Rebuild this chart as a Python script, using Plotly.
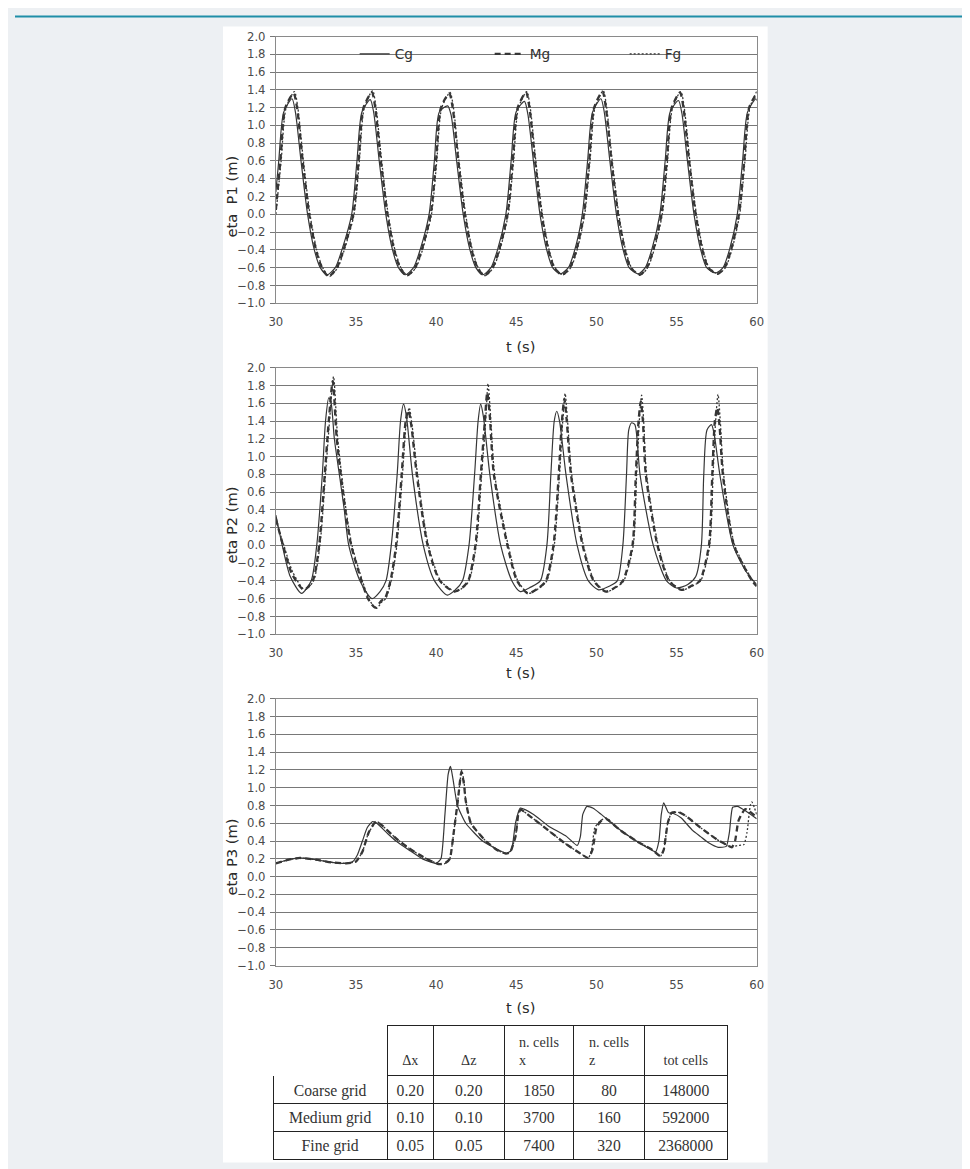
import plotly.graph_objects as go

# ---------------- data ----------------
# P1
p1_t_cg = [30.0, 30.18, 30.49, 31.01, 31.22, 31.57, 31.98, 32.4, 32.77, 33.19, 33.71, 34.12,
           34.73, 35.06, 35.37, 35.89, 36.1, 36.45, 36.86, 37.28, 37.65, 38.07, 38.59, 39.0,
           39.56, 39.89, 40.2, 40.72, 40.93, 41.28, 41.69, 42.11, 42.48, 42.9, 43.42, 43.83,
           44.35, 44.68, 44.99, 45.51, 45.72, 46.07, 46.48, 46.9, 47.27, 47.75, 48.25, 48.65,
           49.12, 49.45, 49.76, 50.28, 50.49, 50.84, 51.25, 51.67, 52.04, 52.6, 53.05, 53.45,
           53.96, 54.29, 54.6, 55.12, 55.33, 55.68, 56.09, 56.51, 56.88, 57.45, 57.9, 58.3,
           58.79, 59.12, 59.43, 59.95, 60.0]
p1_cg = [0.25, 0.6, 1.15, 1.3, 1.15, 0.6, 0.0, -0.4, -0.6, -0.68, -0.6, -0.4,
         0.0, 0.6, 1.15, 1.29, 1.15, 0.6, 0.0, -0.4, -0.6, -0.68, -0.6, -0.4,
         0.0, 0.6, 1.15, 1.22, 1.12, 0.6, 0.0, -0.4, -0.6, -0.68, -0.6, -0.4,
         0.0, 0.6, 1.15, 1.27, 1.13, 0.6, 0.0, -0.4, -0.6, -0.67, -0.6, -0.4,
         0.0, 0.6, 1.15, 1.3, 1.15, 0.6, 0.0, -0.4, -0.6, -0.67, -0.6, -0.4,
         0.0, 0.6, 1.15, 1.28, 1.14, 0.6, 0.0, -0.4, -0.6, -0.66, -0.6, -0.4,
         0.0, 0.6, 1.15, 1.3, 1.28]

p1_t_mg = [30.0, 30.28, 30.59, 31.11, 31.32, 31.67, 32.08, 32.5, 32.87, 33.29, 33.81, 34.22,
           34.83, 35.16, 35.47, 35.99, 36.2, 36.55, 36.96, 37.38, 37.75, 38.17, 38.69, 39.1,
           39.66, 39.99, 40.3, 40.82, 41.03, 41.38, 41.79, 42.21, 42.58, 43.0, 43.52, 43.93,
           44.45, 44.78, 45.09, 45.61, 45.82, 46.17, 46.58, 47.0, 47.37, 47.85, 48.35, 48.75,
           49.22, 49.55, 49.86, 50.38, 50.59, 50.94, 51.35, 51.77, 52.14, 52.7, 53.15, 53.55,
           54.06, 54.39, 54.7, 55.22, 55.43, 55.78, 56.19, 56.61, 56.98, 57.55, 58.0, 58.4,
           58.89, 59.22, 59.53, 60.0]
p1_mg = [0.05, 0.6, 1.2, 1.36, 1.2, 0.6, 0.0, -0.4, -0.6, -0.7, -0.6, -0.4,
         0.0, 0.6, 1.2, 1.37, 1.2, 0.6, 0.0, -0.4, -0.6, -0.69, -0.6, -0.4,
         0.0, 0.6, 1.2, 1.36, 1.2, 0.6, 0.0, -0.4, -0.6, -0.69, -0.6, -0.4,
         0.0, 0.6, 1.2, 1.37, 1.2, 0.6, 0.0, -0.4, -0.6, -0.68, -0.6, -0.4,
         0.0, 0.6, 1.2, 1.38, 1.2, 0.6, 0.0, -0.4, -0.6, -0.68, -0.6, -0.4,
         0.0, 0.6, 1.2, 1.37, 1.2, 0.6, 0.0, -0.4, -0.6, -0.67, -0.6, -0.4,
         0.0, 0.6, 1.2, 1.36]

p1_t_fg = [30.0, 30.33, 30.64, 31.16, 31.37, 31.72, 32.13, 32.55, 32.92, 33.34, 33.86, 34.27,
           34.88, 35.21, 35.52, 36.04, 36.25, 36.6, 37.01, 37.43, 37.8, 38.22, 38.74, 39.15,
           39.71, 40.04, 40.35, 40.87, 41.08, 41.43, 41.84, 42.26, 42.63, 43.05, 43.57, 43.98,
           44.5, 44.83, 45.14, 45.66, 45.87, 46.22, 46.63, 47.05, 47.42, 47.9, 48.4, 48.8,
           49.27, 49.6, 49.91, 50.43, 50.64, 50.99, 51.4, 51.82, 52.19, 52.75, 53.2, 53.6,
           54.11, 54.44, 54.75, 55.27, 55.48, 55.83, 56.24, 56.66, 57.03, 57.6, 58.05, 58.45,
           58.94, 59.27, 59.58, 60.0]
p1_fg = [0.0, 0.6, 1.2, 1.38, 1.2, 0.6, 0.0, -0.4, -0.6, -0.7, -0.6, -0.4,
         0.0, 0.6, 1.2, 1.39, 1.2, 0.6, 0.0, -0.4, -0.6, -0.69, -0.6, -0.4,
         0.0, 0.6, 1.2, 1.37, 1.2, 0.6, 0.0, -0.4, -0.6, -0.69, -0.6, -0.4,
         0.0, 0.6, 1.2, 1.38, 1.2, 0.6, 0.0, -0.4, -0.6, -0.68, -0.6, -0.4,
         0.0, 0.6, 1.2, 1.39, 1.2, 0.6, 0.0, -0.4, -0.6, -0.68, -0.6, -0.4,
         0.0, 0.6, 1.2, 1.38, 1.2, 0.6, 0.0, -0.4, -0.6, -0.67, -0.6, -0.4,
         0.0, 0.6, 1.2, 1.38]

# P2
p2_t_cg = [30.0, 30.4, 30.9, 31.6, 32.2, 32.55, 32.9, 33.1, 33.3, 33.45, 33.65, 34.0, 34.27,
           34.55, 35.25, 36.0, 36.5, 36.87, 37.2, 37.57, 37.78, 37.97, 38.15, 38.52, 39.2,
           39.9, 40.7, 41.2, 41.64, 42.05, 42.4, 42.62, 42.78, 42.95, 43.35, 44.03, 44.73,
           45.25, 45.9, 46.5, 46.91, 47.16, 47.37, 47.53, 47.7, 48.1, 48.8, 49.5, 50.13,
           50.8, 51.3, 51.65, 51.88, 52.02, 52.2, 52.4, 52.72, 53.55, 54.38, 55.0, 55.7,
           56.2, 56.55, 56.7, 56.9, 57.18, 57.35, 57.7, 58.53, 59.36, 60.0]
p2_cg = [0.34, 0.0, -0.35, -0.54, -0.4, 0.0, 0.8, 1.4, 1.66, 1.6, 1.2, 0.75, 0.4,
         0.0, -0.4, -0.6, -0.52, -0.4, 0.0, 0.8, 1.4, 1.59, 1.45, 0.8, 0.0,
         -0.4, -0.56, -0.5, -0.4, 0.0, 0.8, 1.4, 1.59, 1.45, 0.8, 0.0, -0.4,
         -0.52, -0.47, -0.4, 0.0, 0.8, 1.4, 1.51, 1.4, 0.8, 0.0, -0.4, -0.5,
         -0.46, -0.4, 0.0, 0.8, 1.3, 1.38, 1.36, 0.8, 0.0, -0.4, -0.48, -0.44,
         -0.35, 0.0, 0.8, 1.3, 1.36, 1.25, 0.8, 0.0, -0.3, -0.44]

p2_t_mg = [30.0, 30.45, 31.0, 31.75, 32.3, 32.7, 33.05, 33.3, 33.55, 33.8, 34.33, 34.7,
           35.35, 35.75, 36.2, 36.6, 36.8, 37.15, 37.5, 37.85, 38.1, 38.27, 38.45, 38.79,
           39.47, 40.24, 41.15, 41.6, 42.0, 42.45, 42.79, 43.04, 43.19, 43.35, 43.6, 44.45,
           45.05, 45.72, 46.4, 46.85, 47.32, 47.65, 47.85, 48.0, 48.15, 48.41, 49.14, 49.83,
           50.59, 51.2, 51.65, 52.25, 52.46, 52.63, 52.77, 52.9, 53.08, 53.81, 54.54, 55.32,
           56.0, 56.45, 57.02, 57.23, 57.39, 57.54, 57.68, 57.89, 58.58, 59.72, 60.0]
p2_mg = [0.3, 0.0, -0.32, -0.5, -0.4, 0.0, 0.8, 1.4, 1.85, 1.2, 0.4, 0.0,
         -0.4, -0.6, -0.7, -0.62, -0.6, -0.4, 0.0, 0.8, 1.4, 1.52, 1.35, 0.8,
         0.0, -0.4, -0.52, -0.48, -0.4, 0.0, 0.8, 1.4, 1.72, 1.45, 0.8, 0.0,
         -0.4, -0.54, -0.48, -0.4, 0.0, 0.8, 1.4, 1.65, 1.4, 0.8, 0.0, -0.4,
         -0.52, -0.47, -0.4, 0.0, 0.8, 1.4, 1.62, 1.4, 0.8, 0.0, -0.4, -0.5,
         -0.45, -0.4, 0.0, 0.8, 1.4, 1.55, 1.35, 0.8, 0.0, -0.4, -0.46]

p2_t_fg = [30.0, 30.5, 31.05, 31.8, 32.35, 32.75, 33.1, 33.35, 33.6, 33.86, 34.38, 34.75,
           35.4, 35.8, 36.25, 36.65, 36.85, 37.2, 37.55, 37.9, 38.15, 38.32, 38.5, 38.84,
           39.52, 40.29, 41.2, 41.65, 42.05, 42.5, 42.84, 43.09, 43.24, 43.4, 43.65, 44.5,
           45.1, 45.77, 46.45, 46.9, 47.37, 47.7, 47.9, 48.05, 48.2, 48.46, 49.19, 49.88,
           50.64, 51.25, 51.7, 52.3, 52.51, 52.68, 52.82, 52.95, 53.13, 53.86, 54.59, 55.37,
           56.05, 56.5, 57.07, 57.28, 57.44, 57.59, 57.73, 57.94, 58.63, 59.77, 60.0]
p2_fg = [0.28, 0.0, -0.3, -0.5, -0.4, 0.0, 0.8, 1.4, 1.9, 1.2, 0.4, 0.0,
         -0.4, -0.6, -0.71, -0.63, -0.6, -0.4, 0.0, 0.8, 1.4, 1.55, 1.35, 0.8,
         0.0, -0.4, -0.52, -0.48, -0.4, 0.0, 0.8, 1.4, 1.82, 1.45, 0.8, 0.0,
         -0.4, -0.54, -0.48, -0.4, 0.0, 0.8, 1.4, 1.71, 1.4, 0.8, 0.0, -0.4,
         -0.52, -0.47, -0.4, 0.0, 0.8, 1.4, 1.69, 1.4, 0.8, 0.0, -0.4, -0.5,
         -0.45, -0.4, 0.0, 0.8, 1.4, 1.7, 1.4, 0.8, 0.0, -0.4, -0.45]

# P3
p3_t_cg = [30.0, 30.8, 31.5, 32.5, 33.5, 34.4, 34.8, 35.1, 35.4, 35.7, 36.04, 36.3, 37.0,
           37.5, 38.3, 39.15, 40.0, 40.3, 40.55, 40.75, 40.9, 41.05, 41.33, 41.85, 42.9,
           43.9, 44.4, 44.7, 44.95, 45.25, 46.08, 47.0, 48.15, 48.8, 49.0, 49.15, 49.4,
           49.8, 50.3, 51.3, 52.5, 53.7, 53.9, 54.05, 54.2, 54.5, 54.8, 55.3, 55.6, 56.0,
           56.5, 57.0, 57.6, 58.1, 58.3, 58.5, 58.8, 59.3, 60.0]
p3_cg = [0.15, 0.19, 0.21, 0.19, 0.16, 0.15, 0.17, 0.25, 0.4, 0.55, 0.62, 0.6, 0.48,
         0.4, 0.3, 0.2, 0.15, 0.2, 0.7, 1.15, 1.24, 1.1, 0.8, 0.6, 0.4,
         0.3, 0.26, 0.3, 0.6, 0.77, 0.7, 0.57, 0.45, 0.35, 0.45, 0.7, 0.79,
         0.77, 0.7, 0.55, 0.4, 0.28, 0.4, 0.7, 0.83, 0.72, 0.71, 0.66, 0.6, 0.52,
         0.45, 0.38, 0.33, 0.34, 0.5, 0.78, 0.79, 0.74, 0.65]

p3_t_mg = [30.0, 30.8, 31.5, 32.5, 33.5, 34.4, 35.0, 35.4, 35.8, 36.25, 36.6, 37.5, 38.3,
           39.2, 40.15, 40.55, 40.85, 41.1, 41.35, 41.58, 41.73, 41.85, 42.17, 43.1, 43.8,
           44.34, 44.6, 44.95, 45.15, 45.3, 46.0, 47.0, 48.0, 49.0, 49.5, 49.75, 50.0,
           50.25, 50.6, 51.5, 52.5, 53.5, 54.0, 54.2, 54.45, 54.7, 55.2, 55.6, 56.5, 57.5,
           58.1, 58.45, 58.65, 58.85, 59.05, 59.3, 60.0]
p3_mg = [0.15, 0.19, 0.21, 0.19, 0.16, 0.15, 0.17, 0.28, 0.5, 0.62, 0.58, 0.43, 0.32,
         0.22, 0.14, 0.15, 0.2, 0.5, 0.85, 1.18, 1.05, 0.85, 0.6, 0.4, 0.3,
         0.26, 0.27, 0.45, 0.72, 0.75, 0.66, 0.52, 0.38, 0.26, 0.21, 0.3, 0.55,
         0.62, 0.65, 0.52, 0.4, 0.3, 0.23, 0.3, 0.6, 0.72, 0.72, 0.68, 0.55, 0.42,
         0.36, 0.33, 0.4, 0.62, 0.7, 0.76, 0.67]

p3_t_fg = [30.0, 30.8, 31.5, 32.5, 33.5, 34.4, 35.0, 35.4, 35.8, 36.3, 36.6, 37.5, 38.3,
           39.2, 40.2, 40.6, 40.85, 41.1, 41.35, 41.6, 41.75, 41.85, 42.17, 43.1, 43.8,
           44.34, 44.6, 44.95, 45.15, 45.3, 46.0, 47.0, 48.0, 49.0, 49.5, 49.7, 49.9,
           50.2, 50.6, 51.5, 52.5, 53.5, 54.0, 54.2, 54.45, 54.7, 55.2, 55.6, 56.5, 57.5,
           58.1, 58.4, 58.8, 59.2, 59.4, 59.6, 59.7, 59.85, 60.0]
p3_fg = [0.15, 0.19, 0.21, 0.19, 0.16, 0.15, 0.17, 0.28, 0.5, 0.62, 0.58, 0.43, 0.32,
         0.22, 0.14, 0.15, 0.2, 0.5, 0.85, 1.2, 1.05, 0.85, 0.6, 0.4, 0.3,
         0.26, 0.27, 0.45, 0.72, 0.75, 0.66, 0.52, 0.38, 0.26, 0.21, 0.3, 0.55,
         0.62, 0.66, 0.52, 0.4, 0.3, 0.23, 0.3, 0.6, 0.72, 0.72, 0.68, 0.55, 0.42,
         0.36, 0.33, 0.35, 0.36, 0.5, 0.8, 0.84, 0.78, 0.7]

series_names = ["Cg", "Mg", "Fg"]
x_ticks = [30, 35, 40, 45, 50, 55, 60]
y_ticks = [-1.0, -0.8, -0.6, -0.4, -0.2, 0.0, 0.2, 0.4, 0.6, 0.8, 1.0, 1.2, 1.4, 1.6, 1.8, 2.0]
y_titles = ["eta  P1 (m)", "eta P2 (m)", "eta P3 (m)"]
x_title = "t (s)"

tbl_header = ["", "\u00a0<br>\u0394x", "\u00a0<br>\u0394z", "n. cells<br>x", "n. cells<br>z",
              "\u00a0<br>tot cells"]
tbl_grid = ["Coarse grid", "Medium grid", "Fine grid"]
tbl_dx = ["0.20", "0.10", "0.05"]
tbl_dz = ["0.20", "0.10", "0.05"]
tbl_nx = ["1850", "3700", "7400"]
tbl_nz = ["80", "160", "320"]
tbl_tot = ["148000", "592000", "2368000"]

# ---------------- figure ----------------
# The page is photographed with a small offset and scale; coordinates below are
# written in screenshot pixels and converted to figure pixels.
S, C = 0.988, 13.5
W, H = 970, 1170
def fpx(v):
    return (v - C) / S
def PX(x):
    return fpx(x) / W
def PY(y):
    return 1 - fpx(y) / H
def fs(v):
    return v / S

LINE_C = "#363636"
styles = {
    "Cg": dict(color=LINE_C, width=1.2, dash="solid"),
    "Mg": dict(color=LINE_C, width=2.3, dash="6px,4px"),
    "Fg": dict(color=LINE_C, width=1.3, dash="2px,2px"),
}

fig = go.Figure()
data = [
    [(p1_t_cg, p1_cg), (p1_t_mg, p1_mg), (p1_t_fg, p1_fg)],
    [(p2_t_cg, p2_cg), (p2_t_mg, p2_mg), (p2_t_fg, p2_fg)],
    [(p3_t_cg, p3_cg), (p3_t_mg, p3_mg), (p3_t_fg, p3_fg)],
]
for i, panel in enumerate(data):
    ax = "" if i == 0 else str(i + 1)
    for name, (t, v) in zip(series_names, panel):
        fig.add_trace(go.Scatter(
            x=t, y=v, mode="lines", name=name,
            line=dict(shape="spline", smoothing=0.7 if i < 2 else 0.5, **styles[name]),
            xaxis="x" + ax, yaxis="y" + ax, showlegend=(i == 0),
        ))

# table
serif_h = dict(family="Liberation Serif, Times New Roman, serif", size=fs(14), color="#333")
serif_c = dict(family="Liberation Serif, Times New Roman, serif", size=fs(15.5), color="#333")
fig.add_trace(go.Table(
    domain=dict(x=[PX(272.3), PX(728.3)], y=[PY(1159), PY(1024)]),
    columnwidth=[114.4, 46.6, 71, 70, 70.7, 83.3],
    header=dict(values=tbl_header, height=40.5, align="center",
                fill=dict(color="white"),
                line=dict(color=["white", "#222", "#222", "#222", "#222", "#222"], width=1),
                font=serif_h),
    cells=dict(values=[tbl_grid, tbl_dx, tbl_dz, tbl_nx, tbl_nz, tbl_tot], height=fs(27.4),
               align="center", fill=dict(color="white"),
               line=dict(color="#222", width=1), font=serif_c),
))

tick_font = dict(family="DejaVu Sans, Liberation Sans, sans-serif", size=fs(11.5), color="#4a4a4a")
panel_y = [(35, 301.7), (366.2, 632.7), (697.3, 964)]
layout_axes = {}
for i, (top, bot) in enumerate(panel_y):
    ax = "" if i == 0 else str(i + 1)
    layout_axes["xaxis" + ax] = dict(
        domain=[PX(275), PX(757)], range=[30, 60], tickvals=x_ticks,
        anchor="y" + ax, showgrid=False, zeroline=False, showline=True,
        linecolor="#8a8a8a", linewidth=1, mirror=True, ticks="",
        ticklabelstandoff=8, tickfont=tick_font,
    )
    layout_axes["yaxis" + ax] = dict(
        domain=[PY(bot), PY(top)], range=[-1, 2], tickvals=y_ticks, tickformat=".1f",
        anchor="x" + ax, showgrid=True, gridcolor="#787878", gridwidth=1, zeroline=False,
        showline=True, linecolor="#8a8a8a", linewidth=1, mirror=True,
        ticks="outside", ticklen=5, tickcolor="#777", ticklabelstandoff=2, tickfont=tick_font,
    )

title_font = dict(family="DejaVu Sans, Liberation Sans, sans-serif", size=fs(14.5), color="#2a2a2a")
annotations = []
for ytxt, yc in zip(y_titles, [195, 523, 855]):
    annotations.append(dict(text=ytxt, x=PX(231), y=PY(yc), xref="paper", yref="paper",
                            showarrow=False, textangle=-90, font=title_font,
                            xanchor="center", yanchor="middle"))
for yc in [345, 671, 1006]:
    annotations.append(dict(text=x_title, x=PX(520), y=PY(yc), xref="paper", yref="paper",
                            showarrow=False, font=title_font, xanchor="center", yanchor="middle"))

shapes = [
    # teal rule at the top of the page
    dict(type="line", xref="paper", yref="paper", x0=0, x1=1, y0=PY(15), y1=PY(15),
         line=dict(color="#1f8ea8", width=2), layer="below"),
    # white figure panel
    dict(type="rect", xref="paper", yref="paper", x0=PX(222), x1=PX(768), y0=PY(1161), y1=PY(25),
         fillcolor="white", line=dict(width=0), layer="below"),
    # legend box hides the 1.8 gridline
    dict(type="rect", xref="paper", yref="paper", x0=PX(276), x1=PX(756), y0=PY(61), y1=PY(44),
         fillcolor="white", line=dict(width=0), layer="between"),
]

fig.update_layout(
    width=W, height=H, margin=dict(l=0, r=0, t=0, b=0), autosize=False,
    paper_bgcolor="#edf0f3", plot_bgcolor="white",
    showlegend=True,
    legend=dict(orientation="h", x=PX(354), y=PY(37), xanchor="left", yanchor="top",
                bgcolor="rgba(0,0,0,0)", borderwidth=0, entrywidth=90, entrywidthmode="pixels",
                font=dict(family="DejaVu Sans, Liberation Sans, sans-serif", size=fs(13.5), color="#333"),
                itemclick=False, itemdoubleclick=False, tracegroupgap=0),
    annotations=annotations, shapes=shapes,
    **layout_axes,
)

fig.write_html("out.html")
